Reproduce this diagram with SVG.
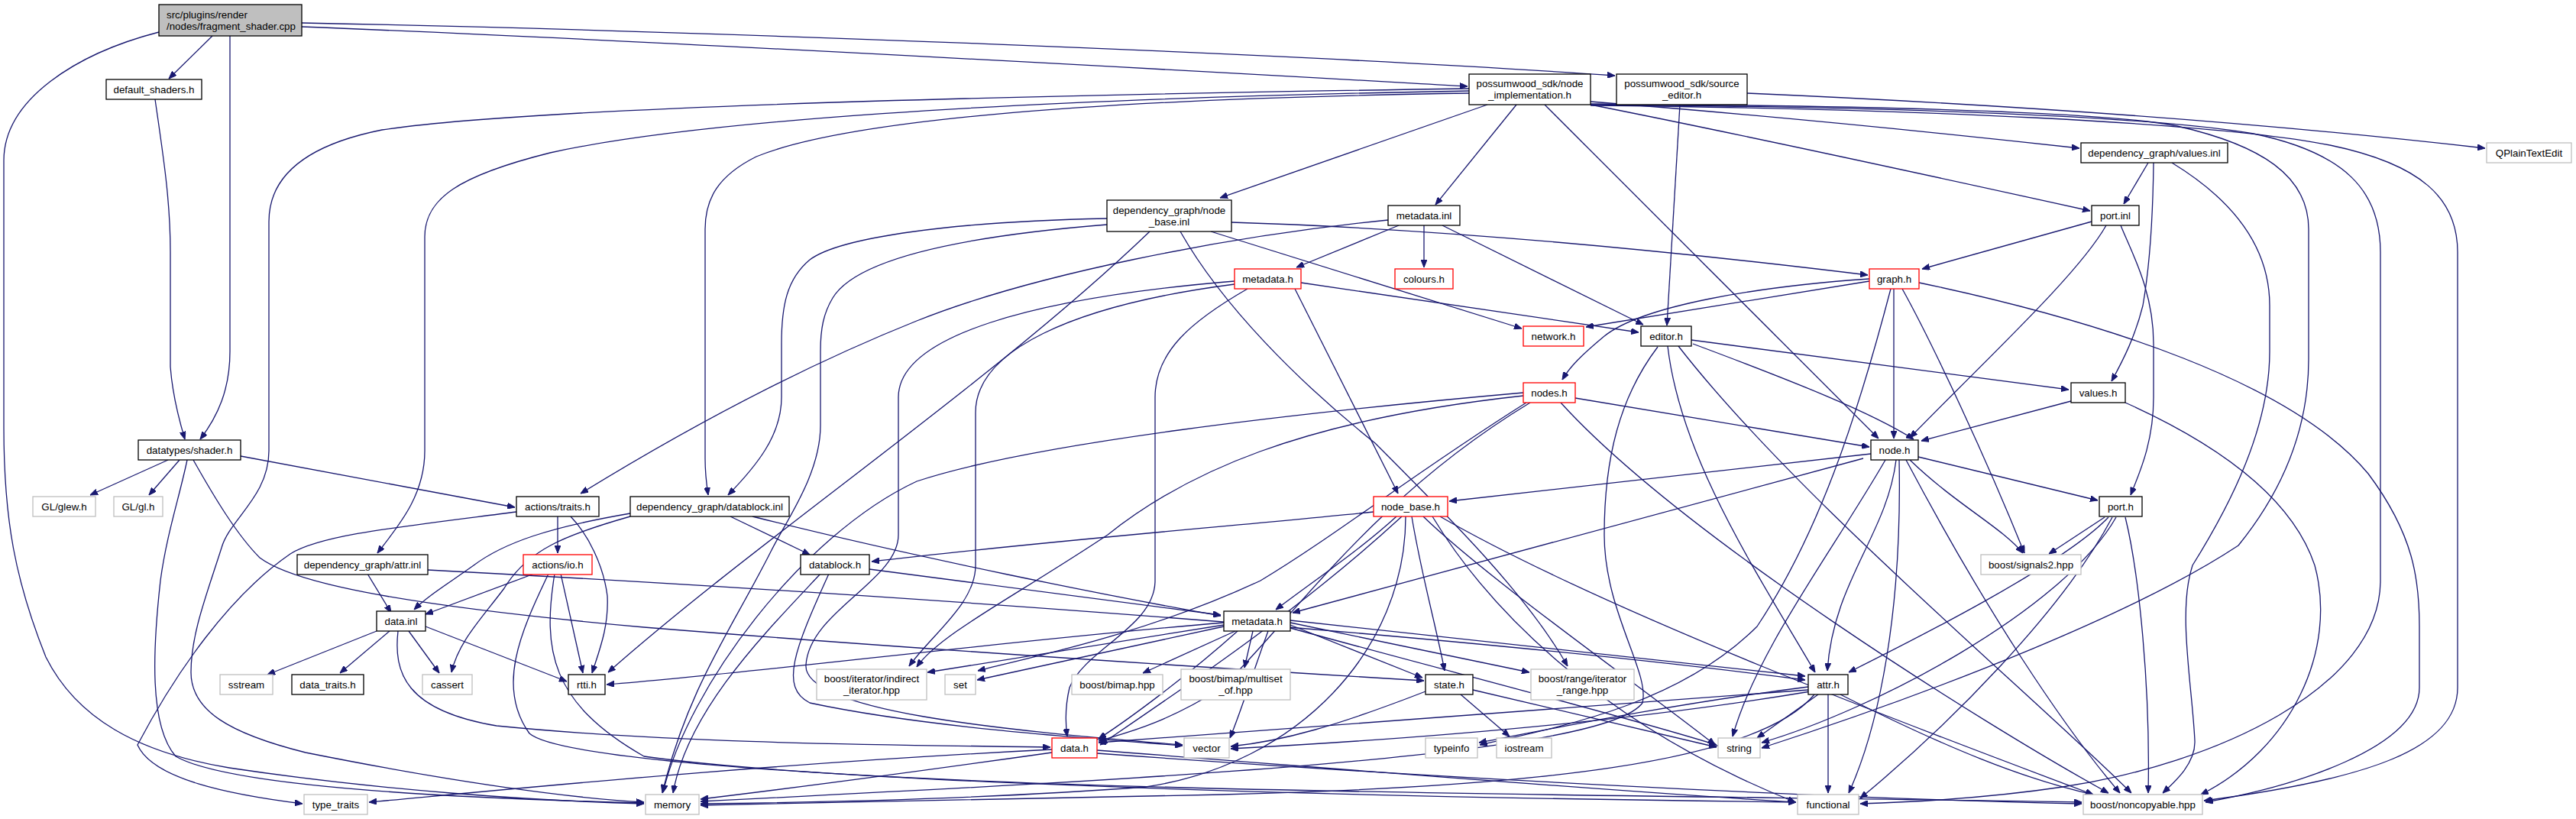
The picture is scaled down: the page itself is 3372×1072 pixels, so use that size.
<svg xmlns="http://www.w3.org/2000/svg" width="3372" height="1072" viewBox="0 0 3372 1072">
<style>
rect{fill:#fff;stroke:#000;stroke-width:1.3}
.r rect{stroke:#ff0000}
.g rect{stroke:#bfbfbf}
.m rect{fill:#bfbfbf}
text{font-family:"Liberation Sans",Arial,sans-serif;font-size:13.33px;text-anchor:middle;fill:#000}
.m text{text-anchor:start}
#edges path{fill:none;stroke:#191970;stroke-width:1.3;marker-end:url(#a)}
</style>
<defs>
<marker id="a" markerWidth="10" markerHeight="8" refX="10" refY="4" orient="auto" markerUnits="userSpaceOnUse"><path d="M0,0 L10,4 L0,8 z" fill="#191970" stroke="#191970"/></marker>
</defs>
<rect x="0" y="0" width="3372" height="1072" style="fill:#fff;stroke:none"/>
<g id="edges">
<path d="M278,47 L221,103"/>
<path d="M301,47 C301,150 301,400 301,460 C301,510 285,545 262,575"/>
<path d="M203,130 C213,200 223,260 223,330 L223,480 C226,520 236,555 242,575"/>
<path d="M208,42 C100,70 5,130 5,210 L5,560 C5,680 20,760 60,860 C100,940 180,985 300,1005 C500,1035 700,1048 843,1052"/>
<path d="M395,30 C900,40 1700,70 2114,99"/>
<path d="M395,35 C900,55 1600,95 1921,113"/>
<path d="M1947,137 L1597,259"/>
<path d="M1985,137 L1879,268"/>
<path d="M2022,137 L2459,574"/>
<path d="M2082,133 C2300,150 2550,175 2722,194"/>
<path d="M2082,137 C2300,180 2550,235 2736,276"/>
<path d="M1923,122 C1400,130 1100,160 990,205 C940,230 923,260 923,300 L923,600 C923,620 925,635 927,648"/>
<path d="M1923,119 C1300,130 900,160 720,200 C600,230 556,260 556,310 L556,590 C556,650 520,690 494,724"/>
<path d="M1923,116 C1300,125 700,140 500,170 C400,190 352,230 352,290 L352,590 C352,650 300,680 290,717 C270,780 250,830 250,880 C250,930 300,960 400,985 C600,1025 750,1045 843,1050"/>
<path d="M2082,136 C2400,138 2750,145 2850,165 C2960,190 3022,230 3022,300 L3022,470 C3022,560 2990,640 2930,714 C2800,800 2550,900 2306,979"/>
<path d="M2082,137 C2450,140 2800,150 2950,175 C3070,200 3116,250 3116,330 L3116,760 C3116,900 2900,1000 2700,1030 C2600,1045 2500,1050 2435,1052"/>
<path d="M2082,138 C2500,142 2900,160 3050,190 C3170,215 3217,260 3217,330 L3217,900 C3217,980 3100,1020 2885,1048"/>
<path d="M2812,213 L2780,267"/>
<path d="M2819,213 C2818,300 2812,360 2805,400 C2795,440 2780,470 2764,499"/>
<path d="M2843,213 C2920,260 2971,320 2971,400 L2971,460 C2971,560 2920,660 2870,740 C2850,800 2870,900 2873,970 C2874,1000 2845,1025 2831,1038"/>
<path d="M2738,290 L2516,352"/>
<path d="M2757,295 C2720,360 2600,470 2500,573"/>
<path d="M2776,295 C2790,330 2819,380 2819,450 L2819,520 C2819,580 2800,620 2789,648"/>
<path d="M2287,122 C2700,140 3000,165 3253,194"/>
<path d="M2199,137 L2182,426"/>
<path d="M1449,286 C1250,290 1100,310 1060,340 C1030,365 1023,400 1023,450 L1023,520 C1023,570 990,610 953,648"/>
<path d="M1449,294 C1250,310 1120,340 1090,390 C1078,410 1074,430 1074,460 L1074,557 C1074,620 1030,680 1010,720 C960,820 900,900 867,1038"/>
<path d="M1612,291 C1900,300 2200,330 2445,360"/>
<path d="M1585,303 L1992,430"/>
<path d="M1545,303 C1600,400 1700,500 1800,580 C1900,680 2000,780 2052,872"/>
<path d="M1505,303 C1300,500 1000,700 796,880"/>
<path d="M1695,378 L1830,646"/>
<path d="M1831,295 L1697,350"/>
<path d="M1864,295 L1864,350"/>
<path d="M1888,295 L2151,425"/>
<path d="M1817,288 C1600,310 1350,360 1200,420 C1050,480 900,560 760,646"/>
<path d="M1703,370 L2145,435"/>
<path d="M1633,378 C1560,420 1512,460 1512,520 L1512,760 C1512,820 1420,850 1400,900 C1393,930 1395,950 1397,964"/>
<path d="M1616,368 C1350,390 1176,440 1176,520 L1176,700 C1176,760 1060,800 1055,870 C1050,930 1300,955 1548,975"/>
<path d="M1616,372 C1400,400 1277,460 1277,540 L1277,740 C1277,790 1220,830 1190,872"/>
<path d="M2447,368 L2076,428"/>
<path d="M2447,365 C2300,375 2150,400 2100,440 C2070,465 2055,480 2045,497"/>
<path d="M2479,378 L2479,574"/>
<path d="M2512,370 C2750,420 3000,500 3100,620 C3160,700 3167,760 3167,820 L3167,900 C3167,980 3000,1030 2887,1050"/>
<path d="M2490,378 C2530,450 2600,600 2650,724"/>
<path d="M2475,378 C2430,550 2380,700 2300,820 C2200,920 2050,950 1937,975"/>
<path d="M2214,445 L2708,510"/>
<path d="M2216,450 C2350,500 2450,540 2505,575"/>
<path d="M2170,454 C2120,520 2100,600 2100,700 C2100,800 2160,880 2150,920 C2100,990 1500,1020 917,1049"/>
<path d="M2183,453 C2200,600 2300,750 2376,880"/>
<path d="M2197,453 C2350,650 2650,900 2790,1038"/>
<path d="M2062,521 L2447,585"/>
<path d="M1994,514 C1700,540 1350,580 1200,630 C1050,700 900,900 868,1037"/>
<path d="M1994,518 C1700,550 1550,620 1450,700 C1330,780 1230,830 1200,873"/>
<path d="M2003,527 C1800,650 1700,800 1600,900 C1520,950 1470,960 1438,970"/>
<path d="M1998,527 C1850,620 1750,700 1650,760 C1500,830 1350,860 1280,878"/>
<path d="M2043,527 C2200,700 2600,950 2760,1038"/>
<path d="M2449,594 L1897,656"/>
<path d="M2511,598 L2746,655"/>
<path d="M2500,602 C2560,660 2620,690 2648,724"/>
<path d="M2439,600 L1692,802"/>
<path d="M2482,602 C2470,700 2400,760 2392,878"/>
<path d="M2468,602 C2400,720 2300,850 2268,964"/>
<path d="M2486,602 C2490,800 2460,950 2420,1038"/>
<path d="M2495,602 C2600,800 2700,950 2775,1038"/>
<path d="M2711,525 L2515,577"/>
<path d="M2782,527 C2900,580 3000,650 3030,740 C3060,850 3000,980 2881,1040"/>
<path d="M2755,677 L2682,725"/>
<path d="M2760,677 C2700,740 2500,840 2420,880"/>
<path d="M2770,677 C2700,800 2450,930 2306,972"/>
<path d="M2782,677 C2800,750 2815,900 2812,1038"/>
<path d="M2765,677 C2700,800 2550,950 2435,1045"/>
<path d="M1798,670 C1600,690 1350,710 1141,735"/>
<path d="M1828,676 C1780,720 1720,760 1670,798"/>
<path d="M1848,676 C1860,750 1880,820 1891,878"/>
<path d="M1835,676 C1700,800 1550,900 1440,975"/>
<path d="M1863,676 C1950,760 2150,900 2245,975"/>
<path d="M1885,676 C2100,800 2500,950 2740,1040"/>
<path d="M1875,676 C1950,800 2100,950 2350,1050"/>
<path d="M1840,676 C1840,850 1700,1000 1500,1030 C1300,1045 1100,1050 917,1052"/>
<path d="M956,676 L1060,726"/>
<path d="M985,676 C1200,730 1450,780 1598,806"/>
<path d="M825,672 C720,690 660,710 620,740 C585,765 560,780 542,798"/>
<path d="M825,676 C740,700 690,720 660,770 C630,810 600,840 591,880"/>
<path d="M730,676 L730,724"/>
<path d="M676,670 C520,690 420,700 380,725 C300,780 230,880 180,975 C200,1020 300,1040 396,1052"/>
<path d="M747,676 C770,700 790,740 795,780 C797,820 785,850 775,881"/>
<path d="M699,751 L557,804"/>
<path d="M734,751 L763,881"/>
<path d="M718,751 C680,830 650,900 693,960 C750,1010 1500,1040 2351,1050"/>
<path d="M726,751 C710,850 720,920 843,990 C1200,1040 2200,1040 2725,1050"/>
<path d="M481,751 L512,802"/>
<path d="M560,746 C1200,780 1900,830 2363,890"/>
<path d="M493,826 L350,883"/>
<path d="M510,826 L445,881"/>
<path d="M535,826 L575,881"/>
<path d="M557,820 L742,892"/>
<path d="M521,826 C515,880 530,930 650,950 C900,975 1200,975 1375,978"/>
<path d="M1138,745 L1598,805"/>
<path d="M1074,751 C1000,830 900,930 881,1038"/>
<path d="M1085,751 C1040,850 1020,900 1060,920 C1200,950 1400,965 1548,976"/>
<path d="M1602,815 C1300,840 1000,880 794,896"/>
<path d="M1602,818 L1214,880"/>
<path d="M1602,820 L1279,890"/>
<path d="M1617,826 L1496,881"/>
<path d="M1640,826 L1629,874"/>
<path d="M1689,818 L1862,887"/>
<path d="M1689,815 L2002,880"/>
<path d="M1689,812 L2363,885"/>
<path d="M1620,826 C1560,880 1480,940 1438,967"/>
<path d="M1660,826 C1640,880 1625,930 1610,966"/>
<path d="M1689,822 C1900,880 2100,930 2247,975"/>
<path d="M1912,909 L1976,964"/>
<path d="M1928,903 L2247,978"/>
<path d="M1866,905 C1750,950 1680,970 1611,977"/>
<path d="M2380,909 L2300,966"/>
<path d="M2393,909 L2393,1038"/>
<path d="M2409,909 C2550,980 2650,1020 2740,1040"/>
<path d="M2367,899 C2200,920 2050,950 1936,972"/>
<path d="M2370,905 C2100,950 1800,970 1611,980"/>
<path d="M2375,909 C2300,1000 2000,1030 1600,1040 C1300,1048 1100,1052 917,1054"/>
<path d="M2367,903 C2000,930 1700,950 1438,972"/>
<path d="M1377,981 C1000,1000 700,1030 483,1050"/>
<path d="M1377,985 C1200,1010 1050,1030 917,1046"/>
<path d="M1436,982 C1800,1010 2100,1035 2351,1050"/>
<path d="M1436,986 C1900,1020 2400,1045 2725,1052"/>
<path d="M220,602 L118,648"/>
<path d="M235,602 L195,648"/>
<path d="M315,597 L674,664"/>
<path d="M245,602 C235,650 218,700 210,760 C200,850 195,950 230,990 C300,1030 600,1045 843,1051"/>
<path d="M253,602 C280,650 310,700 340,730 C380,760 500,790 843,821 C1200,850 1600,875 1864,891"/>
</g>
<g id="n_main" class="m"><rect x="208" y="6" width="187" height="41"/><text x="218" y="23.5">src/plugins/render</text><text x="218" y="38.5">/nodes/fragment_shader.cpp</text></g>
<g id="n_default_shaders"><rect x="139" y="104" width="125" height="26"/><text x="201.5" y="121.5">default_shaders.h</text></g>
<g id="n_node_impl"><rect x="1923" y="97" width="159" height="40"/><text x="2002.5" y="114">possumwood_sdk/node</text><text x="2002.5" y="129">_implementation.h</text></g>
<g id="n_source_editor"><rect x="2116" y="97" width="171" height="40"/><text x="2201.5" y="114">possumwood_sdk/source</text><text x="2201.5" y="129">_editor.h</text></g>
<g id="n_values_inl"><rect x="2724" y="187" width="192" height="26"/><text x="2820" y="204.5">dependency_graph/values.inl</text></g>
<g id="n_qplaintextedit" class="g"><rect x="3255" y="187" width="111" height="26"/><text x="3310.5" y="204.5">QPlainTextEdit</text></g>
<g id="n_node_base_inl"><rect x="1449" y="262" width="163" height="41"/><text x="1530.5" y="279.5">dependency_graph/node</text><text x="1530.5" y="294.5">_base.inl</text></g>
<g id="n_metadata_inl"><rect x="1817" y="269" width="94" height="26"/><text x="1864" y="286.5">metadata.inl</text></g>
<g id="n_port_inl"><rect x="2738" y="269" width="62" height="26"/><text x="2769" y="286.5">port.inl</text></g>
<g id="n_metadata_h_red" class="r"><rect x="1616" y="352" width="87" height="26"/><text x="1659.5" y="369.5">metadata.h</text></g>
<g id="n_colours" class="r"><rect x="1826" y="352" width="76" height="26"/><text x="1864" y="369.5">colours.h</text></g>
<g id="n_graph" class="r"><rect x="2447" y="352" width="65" height="26"/><text x="2479.5" y="369.5">graph.h</text></g>
<g id="n_network" class="r"><rect x="1994" y="427" width="79" height="26"/><text x="2033.5" y="444.5">network.h</text></g>
<g id="n_editor"><rect x="2148" y="427" width="66" height="26"/><text x="2181" y="444.5">editor.h</text></g>
<g id="n_nodes" class="r"><rect x="1994" y="501" width="68" height="26"/><text x="2028" y="518.5">nodes.h</text></g>
<g id="n_values_h"><rect x="2711" y="501" width="71" height="26"/><text x="2746.5" y="518.5">values.h</text></g>
<g id="n_shader"><rect x="181" y="576" width="134" height="26"/><text x="248" y="593.5">datatypes/shader.h</text></g>
<g id="n_node_h"><rect x="2449" y="576" width="62" height="26"/><text x="2480" y="593.5">node.h</text></g>
<g id="n_glew" class="g"><rect x="43" y="650" width="82" height="26"/><text x="84" y="667.5">GL/glew.h</text></g>
<g id="n_gl" class="g"><rect x="149" y="650" width="64" height="26"/><text x="181" y="667.5">GL/gl.h</text></g>
<g id="n_traits"><rect x="676" y="650" width="108" height="26"/><text x="730" y="667.5">actions/traits.h</text></g>
<g id="n_datablock_inl"><rect x="825" y="650" width="208" height="26"/><text x="929" y="667.5">dependency_graph/datablock.inl</text></g>
<g id="n_node_base_h" class="r"><rect x="1798" y="650" width="97" height="26"/><text x="1846.5" y="667.5">node_base.h</text></g>
<g id="n_port_h"><rect x="2748" y="650" width="56" height="26"/><text x="2776" y="667.5">port.h</text></g>
<g id="n_attr_inl"><rect x="389" y="726" width="171" height="26"/><text x="474.5" y="743.5">dependency_graph/attr.inl</text></g>
<g id="n_io" class="r"><rect x="685" y="726" width="90" height="26"/><text x="730" y="743.5">actions/io.h</text></g>
<g id="n_datablock_h"><rect x="1048" y="726" width="90" height="26"/><text x="1093" y="743.5">datablock.h</text></g>
<g id="n_signals2" class="g"><rect x="2593" y="726" width="131" height="26"/><text x="2658.5" y="743.5">boost/signals2.hpp</text></g>
<g id="n_data_inl"><rect x="493" y="800" width="64" height="26"/><text x="525" y="817.5">data.inl</text></g>
<g id="n_metadata_h"><rect x="1602" y="800" width="87" height="26"/><text x="1645.5" y="817.5">metadata.h</text></g>
<g id="n_sstream" class="g"><rect x="288" y="883" width="69" height="26"/><text x="322.5" y="900.5">sstream</text></g>
<g id="n_data_traits"><rect x="382" y="883" width="94" height="26"/><text x="429" y="900.5">data_traits.h</text></g>
<g id="n_cassert" class="g"><rect x="553" y="883" width="65" height="26"/><text x="585.5" y="900.5">cassert</text></g>
<g id="n_rtti"><rect x="744" y="883" width="48" height="26"/><text x="768" y="900.5">rtti.h</text></g>
<g id="n_indirect" class="g"><rect x="1069" y="876" width="144" height="40"/><text x="1141" y="893">boost/iterator/indirect</text><text x="1141" y="908">_iterator.hpp</text></g>
<g id="n_set" class="g"><rect x="1237" y="883" width="40" height="26"/><text x="1257" y="900.5">set</text></g>
<g id="n_bimap" class="g"><rect x="1403" y="883" width="119" height="26"/><text x="1462.5" y="900.5">boost/bimap.hpp</text></g>
<g id="n_multiset" class="g"><rect x="1546" y="876" width="143" height="40"/><text x="1617.5" y="893">boost/bimap/multiset</text><text x="1617.5" y="908">_of.hpp</text></g>
<g id="n_state"><rect x="1866" y="883" width="62" height="26"/><text x="1897" y="900.5">state.h</text></g>
<g id="n_iter_range" class="g"><rect x="2004" y="876" width="135" height="40"/><text x="2071.5" y="893">boost/range/iterator</text><text x="2071.5" y="908">_range.hpp</text></g>
<g id="n_attr_h"><rect x="2367" y="883" width="52" height="26"/><text x="2393" y="900.5">attr.h</text></g>
<g id="n_data_h" class="r"><rect x="1377" y="966" width="59" height="26"/><text x="1406.5" y="983.5">data.h</text></g>
<g id="n_vector" class="g"><rect x="1550" y="966" width="59" height="26"/><text x="1579.5" y="983.5">vector</text></g>
<g id="n_typeinfo" class="g"><rect x="1866" y="966" width="68" height="26"/><text x="1900" y="983.5">typeinfo</text></g>
<g id="n_iostream" class="g"><rect x="1959" y="966" width="72" height="26"/><text x="1995" y="983.5">iostream</text></g>
<g id="n_string" class="g"><rect x="2249" y="966" width="55" height="26"/><text x="2276.5" y="983.5">string</text></g>
<g id="n_type_traits" class="g"><rect x="398" y="1040" width="83" height="26"/><text x="439.5" y="1057.5">type_traits</text></g>
<g id="n_memory" class="g"><rect x="845" y="1040" width="70" height="26"/><text x="880" y="1057.5">memory</text></g>
<g id="n_functional" class="g"><rect x="2353" y="1040" width="80" height="26"/><text x="2393" y="1057.5">functional</text></g>
<g id="n_noncopyable" class="g"><rect x="2727" y="1040" width="156" height="26"/><text x="2805" y="1057.5">boost/noncopyable.hpp</text></g>
</svg>
